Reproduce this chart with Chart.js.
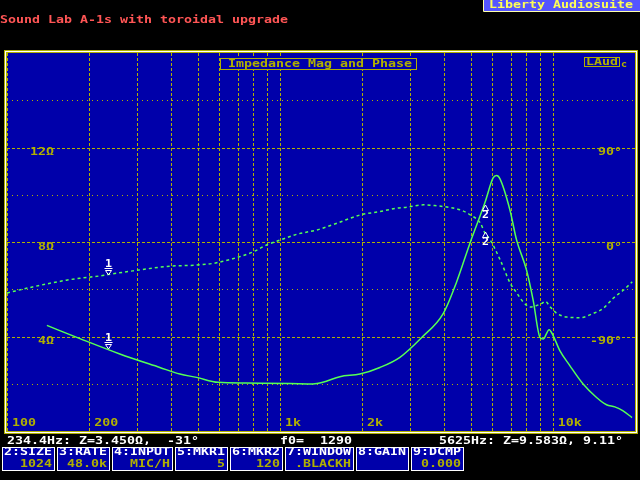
<!DOCTYPE html>
<html>
<head>
<meta charset="utf-8">
<title>Impedance Mag and Phase</title>
<script src="https://cdn.jsdelivr.net/npm/chart.js@4.4.1/dist/chart.umd.min.js"></script>
<style>
  html, body { margin: 0; padding: 0; background: #000; }
  canvas { display: block; }
</style>
</head>
<body>
<canvas id="chart" width="640" height="480"></canvas>
<script>
// impedance magnitude trace (Hz, ohms)
const magFreq = [140, 185, 259, 363, 430, 495, 594, 750, 1088, 1321, 1437, 1659, 1963, 2325, 2752, 3315, 3965, 4440, 4966, 5636, 6043, 6220, 6396, 6960, 7362, 8011, 8472, 8963, 9215, 9692, 10025, 10607, 11540, 12910, 14460, 15730, 16870, 18090, 19500];
const magOhms = [4.47, 3.91, 3.26, 2.69, 2.41, 2.27, 2.06, 2.03, 2.01, 1.99, 2.06, 2.30, 2.41, 2.69, 3.12, 3.97, 4.97, 6.31, 7.94, 9.66, 10.71, 10.81, 10.68, 9.36, 8.09, 6.81, 5.53, 3.97, 3.89, 4.29, 4.04, 3.40, 2.77, 1.99, 1.42, 1.11, 1.02, 0.85, 0.57];

// phase trace (Hz, degrees)
const phaseFreq = [100, 124, 165, 185, 219, 234.4, 289, 396, 495, 586, 724, 799, 894, 1003, 1155, 1367, 1619, 1970, 2332, 2685, 2921, 3360, 3763, 3968, 4580, 4982, 5421, 5625, 5899, 6417, 6982, 7387, 7790, 8265, 9120, 9380, 9784, 10350, 11262, 12600, 14060, 15300, 16640, 18110, 19540];
const phaseDeg = [-48.5, -42.8, -36.4, -34.5, -32.3, -31, -27.5, -23.0, -22.0, -19.8, -13.4, -9.3, -2.9, 1.9, 7.4, 11.5, 17.9, 25.8, 29.0, 32.3, 33.2, 35.4, 34.5, 33.8, 30.6, 25.8, 18.2, 9.11, 1.9, -17.2, -39.3, -48.8, -57.2, -61.9, -58.4, -56.5, -61.9, -68.0, -71.5, -72.1, -68.0, -63.2, -53.6, -46.0, -38.0];

// markers
const markerNames = ['1', '2'];
const markerFreq = [234.4, 5625];
const markerOhms = [3.45, 9.583];
const markerDeg = [-31, 9.11];

// axis labels
const freqTicks = [100, 200, 1000, 2000, 10000];
const freqTickLabels = ['100', '200', '1k', '2k', '10k'];
const ohmTicks = [4, 8, 12];
const ohmTickLabels = ['4Ω', '8Ω', '12Ω'];
const degTicks = [-90, 0, 90];
const degTickLabels = ['-90°', '0°', '90°'];

const buttonTop = ['2:SIZE', '3:RATE', '4:INPUT', '5:MKR1', '6:MKR2', '7:WINDOW', '8:GAIN', '9:DCMP'];
const buttonVal = ['1024', '48.0k', 'MIC/H', '5', '120', '.BLACKH', '', '0.000'];

const BLUE = '#0000aa', OLIVE = '#b0b000', GREEN = '#55ff55';

// gridlines every 100Hz..10kHz
const gridFreqs = [];
for (let d = 100; d <= 1000; d *= 10) {
  for (let k = 1; k <= 9; k++) gridFreqs.push(d * k);
}
gridFreqs.push(10000);

// pixel-ish monospace text, stretched to 8px per character
function mono(ctx, s, x, y, color, align, size, cw) {
  if (!s) return;
  size = size || 11;
  cw = cw || 8;
  ctx.save();
  ctx.font = 'bold ' + size + 'px "DejaVu Sans Mono"';
  const w = ctx.measureText(s).width;
  const target = s.length * cw;
  const left = align === 'right' ? x - target : (align === 'center' ? x - target / 2 : x);
  ctx.translate(left, y);
  ctx.scale(target / w, 1);
  ctx.fillStyle = color;
  ctx.textBaseline = 'middle';
  ctx.textAlign = 'left';
  ctx.fillText(s, 0, 0);
  ctx.restore();
}

function hline(ctx, x1, x2, y, dash) {
  ctx.setLineDash(dash);
  ctx.beginPath();
  ctx.moveTo(x1, Math.round(y) + 0.5);
  ctx.lineTo(x2, Math.round(y) + 0.5);
  ctx.stroke();
}

function vline(ctx, x, y1, y2, dash) {
  ctx.setLineDash(dash);
  ctx.beginPath();
  ctx.moveTo(Math.round(x) + 0.5, y1);
  ctx.lineTo(Math.round(x) + 0.5, y2);
  ctx.stroke();
}

const screenPlugin = {
  id: 'screen',
  beforeDatasetsDraw(chart) {
    const { ctx, chartArea: a, scales } = chart;
    ctx.save();
    ctx.fillStyle = BLUE;
    ctx.fillRect(a.left, a.top, a.right - a.left, a.bottom - a.top);

    // frame: yellow / white / yellow
    ctx.lineWidth = 1;
    ctx.setLineDash([]);
    [[1, OLIVE], [2, '#ffffff'], [3, OLIVE]].forEach(([o, c]) => {
      ctx.strokeStyle = c;
      ctx.strokeRect(a.left - o + 0.5, a.top - o + 0.5, a.right - a.left + 2 * o - 1, a.bottom - a.top + 2 * o - 1);
    });

    ctx.strokeStyle = OLIVE;
    gridFreqs.forEach(f => {
      vline(ctx, scales.x.getPixelForValue(f), a.top, a.bottom, [3, 2]);
    });
    for (let v = 2; v < 16; v += 2) {
      hline(ctx, a.left, a.right, scales.y.getPixelForValue(v), v % 4 === 0 ? [3, 2] : [1, 4]);
    }
    ctx.setLineDash([]);

    // axis labels inside the plot
    freqTicks.forEach((f, i) => {
      mono(ctx, freqTickLabels[i], scales.x.getPixelForValue(f) + 5, a.bottom - 8, OLIVE);
    });
    ohmTicks.forEach((v, i) => {
      mono(ctx, ohmTickLabels[i], 54, scales.y.getPixelForValue(v) + 5, OLIVE, 'right');
    });
    degTicks.forEach((v, i) => {
      mono(ctx, degTickLabels[i], 622, scales.y1.getPixelForValue(v) + 5, OLIVE, 'right');
    });

    // boxes at the top of the plot
    ctx.fillStyle = BLUE;
    ctx.fillRect(220, 58, 197, 12);
    ctx.strokeStyle = OLIVE;
    ctx.strokeRect(220.5, 58.5, 196, 11);
    mono(ctx, 'Impedance Mag and Phase', 228, 64, OLIVE);
    ctx.fillRect(584, 57, 36, 10);
    ctx.strokeRect(584.5, 57.5, 35, 9);
    mono(ctx, 'LAud', 586, 62, OLIVE);
    mono(ctx, 'c', 621, 65, OLIVE, 'left', 9, 6);
    ctx.restore();
  },
  afterDatasetsDraw(chart) {
    const { ctx, scales } = chart;
    ctx.save();
    ctx.strokeStyle = '#ffffff';
    ctx.lineWidth = 1;
    ctx.setLineDash([]);
    markerNames.forEach((name, i) => {
      const x = Math.round(scales.x.getPixelForValue(markerFreq[i])) + 0.5;
      const pts = [scales.y.getPixelForValue(markerOhms[i]), scales.y1.getPixelForValue(markerDeg[i])];
      pts.forEach(py => {
        const y = Math.round(py);
        ctx.beginPath();
        if (i === 0) {
          ctx.moveTo(x - 3, y - 4.5);
          ctx.lineTo(x + 3, y - 4.5);
          ctx.lineTo(x, y);
          ctx.closePath();
          ctx.moveTo(x - 4, y - 6.5);
          ctx.lineTo(x + 4, y - 6.5);
          ctx.stroke();
          mono(ctx, name, x, y - 11, '#ffffff', 'center', 10, 7);
        } else {
          ctx.moveTo(x, y);
          ctx.lineTo(x + 3, y + 5.5);
          ctx.lineTo(x - 3, y + 5.5);
          ctx.closePath();
          ctx.stroke();
          mono(ctx, name, x, y + 10, '#ffffff', 'center', 10, 7);
        }
      });
    });
    ctx.restore();
  },
  afterDraw(chart) {
    const { ctx } = chart;
    ctx.save();
    mono(ctx, 'Sound Lab A-1s with toroidal upgrade', 0, 20, '#ff5555');

    ctx.fillStyle = '#5555ff';
    ctx.fillRect(483, 0, 157, 11);
    ctx.strokeStyle = '#ffffaa';
    ctx.lineWidth = 1;
    ctx.beginPath();
    ctx.moveTo(483.5, 0);
    ctx.lineTo(483.5, 11.5);
    ctx.lineTo(640, 11.5);
    ctx.stroke();
    mono(ctx, 'Liberty Audiosuite', 489, 5, '#ffff55');

    mono(ctx, '234.4Hz: Z=3.450Ω,  -31°', 7, 441, '#ffffff');
    mono(ctx, 'f0=  1290', 280, 441, '#ffffff');
    mono(ctx, '5625Hz: Z=9.583Ω, 9.11°', 439, 441, '#ffffff');

    let bx = 2;
    buttonTop.forEach((t, i) => {
      const w = t.length * 8 + 5;
      ctx.fillStyle = BLUE;
      ctx.fillRect(bx, 447, w, 24);
      ctx.strokeStyle = '#ffffff';
      ctx.strokeRect(bx + 0.5, 447.5, w - 1, 23);
      mono(ctx, t, bx + 2, 452.5, '#ffffff');
      mono(ctx, buttonVal[i], bx + w - 3, 464.5, OLIVE, 'right');
      bx += w + 2;
    });
    ctx.restore();
  }
};

new Chart(document.getElementById('chart'), {
  type: 'line',
  data: {
    datasets: [
      {
        label: 'Impedance magnitude',
        data: magFreq.map((f, i) => ({ x: f, y: magOhms[i] })),
        yAxisID: 'y',
        borderColor: GREEN,
        borderWidth: 1.5,
        pointRadius: 0,
        cubicInterpolationMode: 'monotone'
      },
      {
        label: 'Phase',
        data: phaseFreq.map((f, i) => ({ x: f, y: phaseDeg[i] })),
        yAxisID: 'y1',
        borderColor: GREEN,
        borderWidth: 1.5,
        borderDash: [3, 3],
        pointRadius: 0,
        cubicInterpolationMode: 'monotone'
      }
    ]
  },
  options: {
    responsive: false,
    animation: false,
    events: [],
    layout: { padding: { left: 7, top: 53, right: 5, bottom: 49 } },
    scales: {
      x: { type: 'logarithmic', min: 100, max: 20000, display: false },
      y: { type: 'linear', min: 0, max: 16, display: false },
      y1: { type: 'linear', position: 'right', min: -180, max: 180, display: false }
    },
    plugins: {
      legend: { display: false },
      tooltip: { enabled: false }
    }
  },
  plugins: [screenPlugin]
});
</script>
</body>
</html>
